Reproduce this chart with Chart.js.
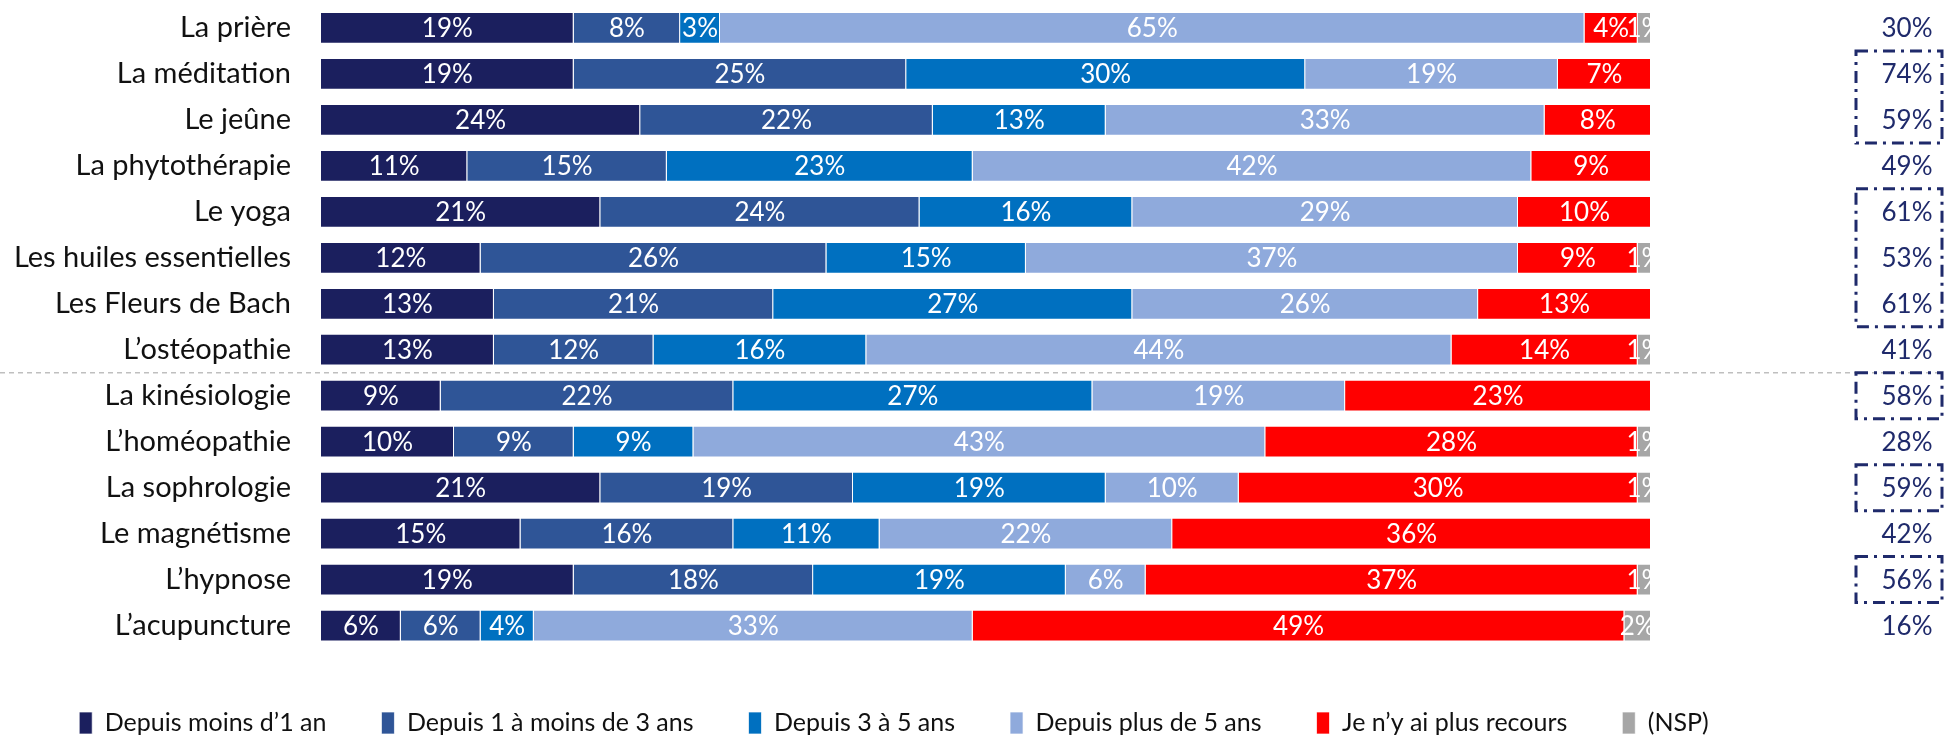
<!DOCTYPE html>
<html><head><meta charset="utf-8">
<script src="https://cdn.jsdelivr.net/npm/chart.js@4/dist/chart.umd.min.js"></script>
<style>html,body{margin:0;padding:0;background:#fff;overflow:hidden}</style>
</head><body>
<canvas id="c" width="1944" height="735"></canvas>
<script>
const categories = ["La prière","La méditation","Le jeûne","La phytothérapie","Le yoga","Les huiles essentielles","Les Fleurs de Bach","L’ostéopathie","La kinésiologie","L’homéopathie","La sophrologie","Le magnétisme","L’hypnose","L’acupuncture"];
const seriesNames = ["Depuis moins d’1 an","Depuis 1 à moins de 3 ans","Depuis 3 à 5 ans","Depuis plus de 5 ans","Je n’y ai plus recours","(NSP)"];
const lessThan1 = [19,19,24,11,21,12,13,13,9,10,21,15,19,6];
const oneTo3    = [8,25,22,15,24,26,21,12,22,9,19,16,18,6];
const threeTo5  = [3,30,13,23,16,15,27,16,27,9,19,11,19,4];
const moreThan5 = [65,19,33,42,29,37,26,44,19,43,10,22,6,33];
const noLonger  = [4,7,8,9,10,9,13,14,23,28,30,36,37,49];
const nsp       = [1,0,0,0,0,1,0,1,0,1,1,0,1,2];
const rightValues = [30,74,59,49,61,53,61,41,58,28,59,42,56,16];
const boxedGroups = [[1,2],[4,6],[8,8],[10,10],[12,12]];
const separatorAfter = 7;

const FONT = 'Lato';
const colors = ['#1B1F5E','#2F5597','#0070C0','#8FAADC','#FF0000','#A6A6A6'];
const seriesData = [lessThan1, oneTo3, threeTo5, moreThan5, noLonger, nsp];
const LEGEND_CENTER = 894;

const labelPlugin = {
  id: 'labels',
  afterLayout(chart) {
    const lg = chart.legend;
    if (!lg) return;
    const shift = LEGEND_CENTER - (lg.left + lg.right) / 2;
    lg.left += shift; lg.right += shift;
  },
  afterDatasetsDraw(chart) {
    const ctx = chart.ctx, a = chart.chartArea;
    ctx.save();
    ctx.beginPath(); ctx.rect(a.left, a.top, a.right - a.left, a.bottom - a.top); ctx.clip();
    ctx.font = '26px ' + FONT; ctx.fillStyle = '#fff';
    ctx.textAlign = 'center'; ctx.textBaseline = 'middle';
    chart.data.datasets.forEach((ds, di) => {
      chart.getDatasetMeta(di).data.forEach((bar, i) => {
        const v = ds.data[i];
        if (!v) return;
        ctx.fillText(v + '%', (bar.x + bar.base) / 2, bar.y + 1);
      });
    });
    ctx.restore();
  },
  afterDraw(chart) {
    const ctx = chart.ctx, y = chart.scales.y;
    ctx.save();
    const sy = (y.getPixelForValue(separatorAfter) + y.getPixelForValue(separatorAfter + 1)) / 2;
    ctx.strokeStyle = '#BFBFBF'; ctx.lineWidth = 1.5; ctx.setLineDash([5, 4]);
    ctx.beginPath(); ctx.moveTo(0, sy); ctx.lineTo(chart.width, sy); ctx.stroke();
    ctx.setLineDash([]);
    ctx.font = '26px ' + FONT; ctx.fillStyle = '#1F2A6B';
    ctx.textAlign = 'center'; ctx.textBaseline = 'middle';
    const cx = chart.chartArea.right + 256;
    rightValues.forEach((v, i) => ctx.fillText(v + '%', cx, y.getPixelForValue(i) + 1));
    ctx.strokeStyle = '#1F2A6B'; ctx.lineWidth = 3; ctx.setLineDash([12, 6, 3, 6]);
    boxedGroups.forEach(([s, e]) => {
      const top = y.getPixelForValue(s) - 23, bot = y.getPixelForValue(e) + 23;
      ctx.strokeRect(cx - 51, top, 86, bot - top);
    });
    ctx.restore();
  }
};

new Chart(document.getElementById('c'), {
  type: 'bar',
  data: {
    labels: categories,
    datasets: seriesData.map((d, i) => ({
      label: seriesNames[i], data: d, backgroundColor: colors[i],
      borderColor: 'rgba(255,255,255,0.7)', borderWidth: 1,
      barPercentage: 0.69, categoryPercentage: 1
    }))
  },
  options: {
    indexAxis: 'y', responsive: false, animation: false,
    layout: { padding: { top: 5, bottom: -10.5, left: 0, right: 0 } },
    scales: {
      x: {
        stacked: true, min: 0, max: 100, display: true,
        grid: { display: false, drawTicks: false }, border: { display: false },
        ticks: { display: false },
        afterFit: s => { s.height = 7; s.paddingLeft = 0; s.paddingRight = 0; }
      },
      y: {
        stacked: true, grid: { display: false, drawTicks: false }, border: { display: false },
        ticks: { font: { family: FONT, size: 29 }, color: '#111', padding: 30 },
        afterFit: s => { s.width = 321; s.paddingTop = 0; s.paddingBottom = 0; }
      },
      yRight: {
        type: 'category', position: 'right', display: true,
        grid: { display: false, drawTicks: false }, border: { display: false },
        ticks: { display: false },
        afterFit: s => { s.width = 293; s.paddingTop = 0; s.paddingBottom = 0; }
      }
    },
    plugins: {
      legend: {
        position: 'bottom',
        labels: { boxWidth: 13, boxHeight: 22, padding: 55, font: { family: FONT, size: 25 }, color: '#111' }
      },
      tooltip: { enabled: false }
    }
  },
  plugins: [labelPlugin]
});
</script>
</body></html>
